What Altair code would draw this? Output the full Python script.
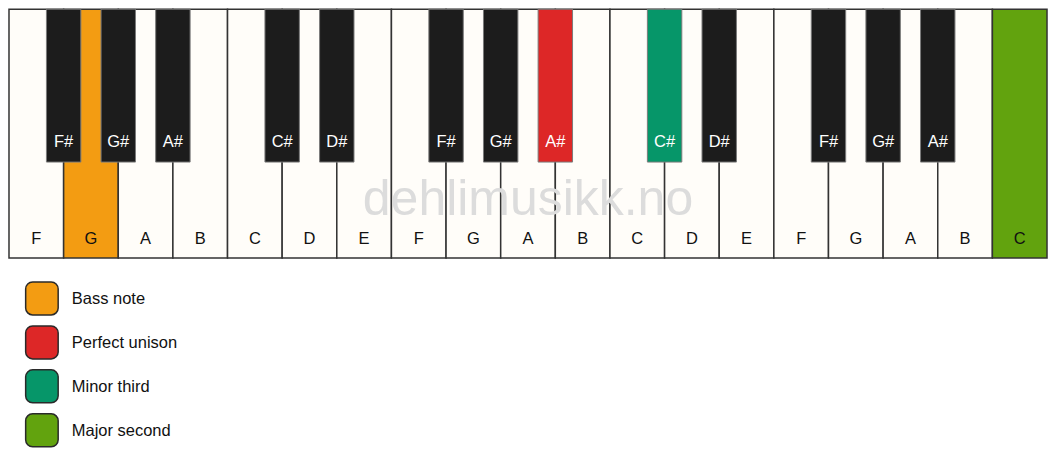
import pandas as pd
import altair as alt

# keyboard data
white_notes = ["F", "G", "A", "B", "C", "D", "E", "F", "G", "A",
               "B", "C", "D", "E", "F", "G", "A", "B", "C"]
black_notes = ["F#", "G#", "A#", "C#", "D#", "F#", "G#", "A#",
               "C#", "D#", "F#", "G#", "A#"]
black_after = [1, 2, 3, 5, 6, 8, 9, 10, 12, 13, 15, 16, 17]  # white-key boundary

# highlighted keys: index -> role
roles = ["Bass note", "Perfect unison", "Minor third", "Major second"]
role_colors = ["#f39c12", "#dd2727", "#069669", "#62a30e"]
white_marked = {1: "Bass note", 18: "Major second"}
black_marked = {7: "Perfect unison", 8: "Minor third"}

watermark = "dehlimusikk.no"

WHITE = "#fffdf9"
BLACK = "#1c1c1c"
KEY_H = 249
BLACK_H = 153
BLACK_HALF = 0.315
FONT = "Liberation Sans"

color_of = dict(zip(roles, role_colors))

white_df = pd.DataFrame({"note": white_notes})
white_df["i"] = range(len(white_notes))
white_df["x0"] = white_df["i"]
white_df["x1"] = white_df["i"] + 1
white_df["mid"] = white_df["i"] + 0.5
white_df["fill"] = [color_of[white_marked[i]] if i in white_marked else WHITE
                    for i in white_df["i"]]

black_df = pd.DataFrame({"note": black_notes, "pos": black_after})
black_df["x0"] = black_df["pos"] - BLACK_HALF
black_df["x1"] = black_df["pos"] + BLACK_HALF
black_df["fill"] = [color_of[black_marked[i]] if i in black_marked else BLACK
                    for i in range(len(black_notes))]

legend_df = pd.DataFrame({"role": roles, "fill": role_colors})
legend_df["k"] = range(len(roles))
legend_df["top"] = 273 + 44 * legend_df["k"]
legend_df["bot"] = legend_df["top"] + 33
legend_df["mid"] = legend_df["top"] + 17
legend_df["sx0"] = 0.305
legend_df["sx1"] = 0.9
legend_df["tx"] = 1.15

wm_df = pd.DataFrame({"text": [watermark], "x": [9.5], "y": [191]})

xs = alt.Scale(domain=[0, 19.018], nice=False, zero=False)
ys = alt.Scale(domain=[0, 445], reverse=True, nice=False, zero=False)

white_keys = alt.Chart(white_df).mark_rect(stroke="#333333", strokeWidth=1.5).encode(
    x=alt.X("x0:Q", scale=xs, axis=None),
    x2="x1:Q",
    y=alt.Y("y0:Q", scale=ys, axis=None),
    y2="y1:Q",
    fill=alt.Fill("fill:N", scale=None),
).transform_calculate(y0="0", y1=str(KEY_H))

white_labels = alt.Chart(white_df).mark_text(
    font=FONT, fontSize=16.5, color="#111111", baseline="middle"
).encode(
    x=alt.X("mid:Q", scale=xs, axis=None),
    y=alt.Y("ly:Q", scale=ys, axis=None),
    text="note:N",
).transform_calculate(ly="230")

wm = alt.Chart(wm_df).mark_text(
    font=FONT, fontSize=50, color="#dcdcdc", baseline="middle"
).encode(
    x=alt.X("x:Q", scale=xs, axis=None),
    y=alt.Y("y:Q", scale=ys, axis=None),
    text="text:N",
)

black_keys = alt.Chart(black_df).mark_rect(stroke="#7a7a7a", strokeWidth=1).encode(
    x=alt.X("x0:Q", scale=xs, axis=None),
    x2="x1:Q",
    y=alt.Y("y0:Q", scale=ys, axis=None),
    y2="y1:Q",
    fill=alt.Fill("fill:N", scale=None),
).transform_calculate(y0="0", y1=str(BLACK_H))

black_labels = alt.Chart(black_df).mark_text(
    font=FONT, fontSize=16.5, color="white", baseline="middle"
).encode(
    x=alt.X("pos:Q", scale=xs, axis=None),
    y=alt.Y("ly:Q", scale=ys, axis=None),
    text="note:N",
).transform_calculate(ly="133")

swatches = alt.Chart(legend_df).mark_rect(
    stroke="#2a2a2a", strokeWidth=1.5, cornerRadius=7
).encode(
    x=alt.X("sx0:Q", scale=xs, axis=None),
    x2="sx1:Q",
    y=alt.Y("top:Q", scale=ys, axis=None),
    y2="bot:Q",
    fill=alt.Fill("fill:N", scale=None),
)

legend_text = alt.Chart(legend_df).mark_text(
    font=FONT, fontSize=16.5, color="#111111", align="left", baseline="middle"
).encode(
    x=alt.X("tx:Q", scale=xs, axis=None),
    y=alt.Y("mid:Q", scale=ys, axis=None),
    text="role:N",
)

chart = (
    alt.layer(white_keys, wm, white_labels, black_keys, black_labels,
              swatches, legend_text)
    .properties(width=1040, height=445, padding=0, background="white")
    .configure_view(strokeWidth=0)
)

chart.save("out.html", embed_options={"renderer": "svg", "actions": False})
